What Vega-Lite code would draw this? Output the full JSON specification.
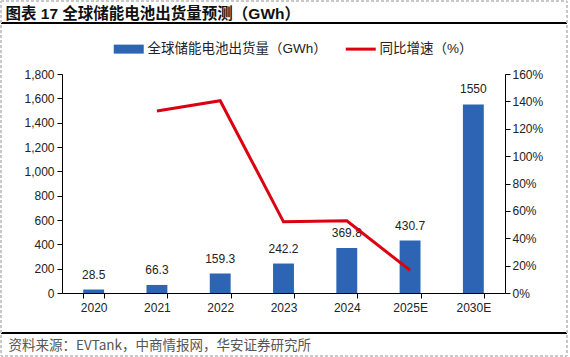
{
  "$schema": "https://vega.github.io/schema/vega-lite/v6.json",
  "width": 443,
  "height": 219,
  "autosize": {"type": "none"},
  "padding": {"left": 62, "top": 74, "right": 65, "bottom": 64},
  "background": "white",
  "config": {
    "view": {"stroke": null},
    "axis": {
      "labelFont": "Liberation Sans",
      "labelFontSize": 12,
      "labelColor": "#222222",
      "domainColor": "#000000",
      "tickColor": "#000000",
      "grid": false,
      "tickSize": 5,
      "domainWidth": 1,
      "tickWidth": 1
    }
  },
  "data": {
    "values": [
      {"year": "2020", "shipment": 28.5, "label": "28.5", "growth": null},
      {"year": "2021", "shipment": 66.3, "label": "66.3", "growth": 1.33},
      {"year": "2022", "shipment": 159.3, "label": "159.3", "growth": 1.405},
      {"year": "2023", "shipment": 242.2, "label": "242.2", "growth": 0.52},
      {"year": "2024", "shipment": 369.8, "label": "369.8", "growth": 0.527},
      {"year": "2025E", "shipment": 430.7, "label": "430.7", "growth": 0.166},
      {"year": "2030E", "shipment": 1550, "label": "1550", "growth": null}
    ]
  },
  "layer": [
    {
      "encoding": {
        "x": {
          "field": "year",
          "type": "ordinal",
          "sort": null,
          "scale": {"paddingInner": 0.67, "paddingOuter": 0.335},
          "axis": {
            "title": "资料来源：EVTank，中商情报网，华安证券研究所",
            "titleFont": "Noto Sans CJK SC",
            "titleFontSize": 13.5,
            "titleFontWeight": "normal",
            "titleColor": "#555555",
            "titleAnchor": "start",
            "titleAlign": "left",
            "titleBaseline": "middle",
            "titleX": -54,
            "titleY": 52,
            "labelAngle": 0,
            "tickBand": "extent",
            "labelPadding": 4
          }
        }
      },
      "layer": [
        {
          "mark": {"type": "bar", "color": "#2E64B4"},
          "encoding": {
            "y": {
              "field": "shipment",
              "type": "quantitative",
              "scale": {"domain": [0, 1800], "nice": false},
              "axis": {"title": null, "format": ",.0f", "values": [0, 200, 400, 600, 800, 1000, 1200, 1400, 1600, 1800], "labelPadding": 3}
            },
            "color": {
              "datum": "全球储能电池出货量（GWh）",
              "type": "nominal",
              "scale": {"domain": ["全球储能电池出货量（GWh）", "同比增速（%）"], "range": ["#2E64B4", "#DD0010"]},
              "legend": {
                "title": null,
                "orient": "none",
                "direction": "horizontal",
                "legendX": 60,
                "legendY": -32,
                "symbolSize": 900,
                "labelFont": "Liberation Sans, Noto Sans CJK SC",
                "labelFontSize": 13.5,
                "labelColor": "#222222",
                "labelOffset": 12,
                "columnPadding": 12,
                "labelLimit": 400,
                "encode": {
                  "symbols": {
                    "update": {
                      "shape": {"signal": "datum.label === '同比增速（%）' ? 'M-1,0H1' : 'M-1,-0.3H1V0.3H-1Z'"},
                      "fill": {"signal": "datum.label === '同比增速（%）' ? 'transparent' : '#2E64B4'"},
                      "stroke": {"signal": "datum.label === '同比增速（%）' ? '#DD0010' : 'transparent'"},
                      "strokeWidth": {"signal": "datum.label === '同比增速（%）' ? 3 : 0"},
                      "opacity": {"value": 1},
                      "fillOpacity": {"value": 1},
                      "strokeOpacity": {"value": 1}
                    }
                  }
                }
              }
            }
          }
        },
        {
          "mark": {"type": "text", "font": "Liberation Sans", "fontSize": 12, "color": "#222222", "baseline": "middle", "dy": -15},
          "encoding": {
            "y": {"field": "shipment", "type": "quantitative", "scale": {"domain": [0, 1800], "nice": false}, "axis": null},
            "text": {"field": "label", "type": "nominal"}
          }
        },
        {
          "mark": {"type": "line", "strokeWidth": 3},
          "encoding": {
            "y": {
              "field": "growth",
              "type": "quantitative",
              "scale": {"domain": [0, 1.6], "nice": false},
              "axis": {"title": null, "orient": "right", "format": ".0%", "values": [0, 0.2, 0.4, 0.6, 0.8, 1, 1.2, 1.4, 1.6], "labelPadding": 2}
            },
            "color": {"datum": "同比增速（%）", "type": "nominal"}
          }
        }
      ],
      "resolve": {"scale": {"y": "independent"}}
    },
    {
      "encoding": {
        "x": {
          "datum": -0.1377,
          "type": "quantitative",
          "scale": {"domain": [0, 1], "nice": false, "zero": false},
          "axis": {
            "orient": "top",
            "domain": false,
            "ticks": false,
            "labels": false,
            "grid": false,
            "title": "图表 17  全球储能电池出货量预测（GWh）",
            "titleFont": "Liberation Sans, Noto Sans CJK SC",
            "titleFontSize": 15.5,
            "titleFontWeight": "bold",
            "titleColor": "#111111",
            "titleAnchor": "start",
            "titleAlign": "left",
            "titleBaseline": "middle",
            "titleX": -57,
            "titleY": -61
          }
        },
        "x2": {"datum": 1.14}
      },
      "layer": [
        {
          "mark": {"type": "rule", "color": "#000000", "strokeWidth": 1.5},
          "encoding": {"y": {"datum": 1.2329, "type": "quantitative", "scale": {"domain": [0, 1], "nice": false, "zero": false}, "axis": null}}
        },
        {
          "mark": {"type": "rule", "color": "#000000", "strokeWidth": 1.5},
          "encoding": {"y": {"datum": -0.1826, "type": "quantitative"}}
        },
        {
          "mark": {"type": "rect", "fill": null, "fillOpacity": 0, "stroke": "#C8C8C8", "strokeWidth": 1, "strokeDash": [3, 2]},
          "encoding": {"y": {"datum": 1.3333, "type": "quantitative"}, "y2": {"datum": -0.2877}}
        }
      ]
    }
  ],
  "resolve": {"scale": {"x": "independent", "y": "independent", "color": "shared"}}
}
